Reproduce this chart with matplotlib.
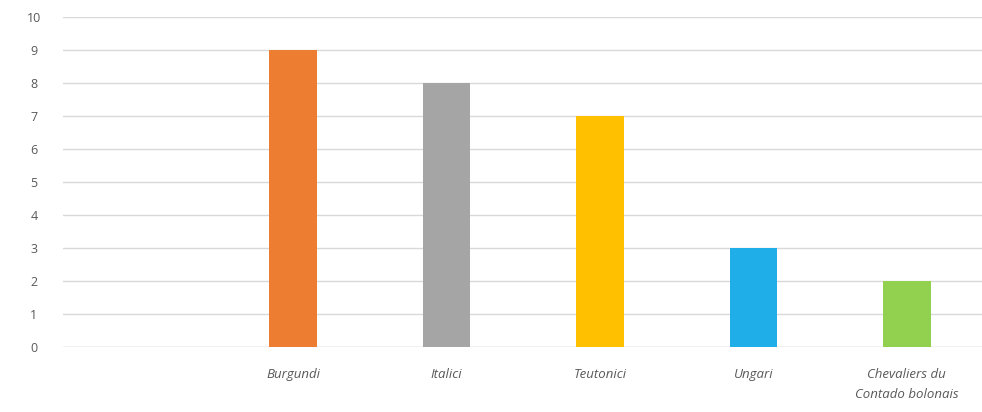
import matplotlib
matplotlib.use("Agg")
import matplotlib.pyplot as plt

categories = ["", "Burgundi", "Italici", "Teutonici", "Ungari", "Chevaliers du\nContado bolonais"]
values = [0, 9, 8, 7, 3, 2]
colors = ["#FFFFFF", "#ED7D31", "#A5A5A5", "#FFC000", "#1FAEE8", "#92D050"]

fig = plt.figure(figsize=(9.82, 4.12), dpi=100)
ax = fig.add_axes([63 / 982, 1 - 347 / 412, 1 - 63 / 982, 330 / 412])

x = list(range(len(categories)))
ax.bar(x, values, width=0.31, color=colors, zorder=3)

ax.set_xlim(-0.5, 5.49)
ax.set_ylim(0, 10)
ax.set_yticks(range(0, 11))
ax.yaxis.grid(True, color="#D9D9D9", lw=1, zorder=0)
ax.set_axisbelow(True)
for s in ax.spines.values():
    s.set_visible(False)
ax.axhline(0, color="#D9D9D9", lw=1, zorder=1)

ax.set_xticks(x)
ax.set_xticklabels(categories, fontstyle="italic", fontsize=9.5, color="#595959",
                   family="Open Sans", linespacing=1.7)
ax.tick_params(axis="x", length=0, pad=15)
for lab in ax.get_yticklabels():
    lab.set_color("#595959")
    lab.set_fontsize(9)
    lab.set_family("Open Sans")
    lab.set_horizontalalignment("center")
ax.tick_params(axis="y", length=0, pad=21)

fig.savefig("out.png", dpi=100)
